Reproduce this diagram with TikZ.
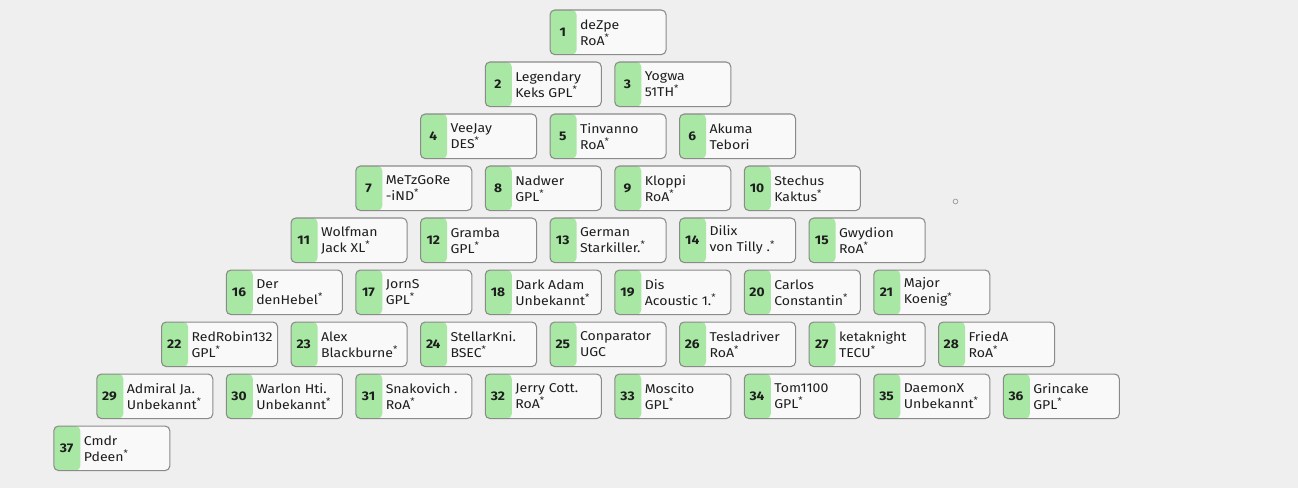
\documentclass[tikz,border=0pt]{standalone}
\usepackage{fontspec}
\setmainfont{Fira Sans}[FakeStretch=1.1]
\definecolor{bgc}{HTML}{EFEFEF}
\definecolor{boxfill}{HTML}{F9F9F9}
\definecolor{boxline}{HTML}{8A8A8A}
\definecolor{numgreen}{HTML}{A8E8A4}
\definecolor{txt}{HTML}{1E1E1E}
\tikzset{
  entrybox/.style={draw=boxline, line width=0.8pt, fill=boxfill, rounded corners=3.5pt,
    minimum width=87pt, minimum height=33.4pt, inner sep=0pt, anchor=north west,
    path picture={\fill[numgreen] (path picture bounding box.north west) rectangle ([xshift=19.9pt]path picture bounding box.south west);}},
  numtext/.style={font=\fontsize{9.4}{11}\selectfont\bfseries, text=txt, inner sep=0pt},
  nametext/.style={font=\fontsize{9.6}{12}\selectfont, text=txt, align=left, inner sep=0pt, anchor=west},
}
\newcommand{\st}{\textsuperscript{*}}
\newcommand{\entry}[5]{%
  \node[entrybox] (b#1) at (#2,#3) {};
  \node[numtext] (n#1) at ([xshift=9.95pt]b#1.west) {#1};
  \node[nametext] (t#1) at ([xshift=22.7pt]b#1.west) {#4\\#5};
}
\begin{document}
\begin{tikzpicture}[x=0.75pt,y=-0.75pt]
\fill[bgc] (0,0) rectangle (1298,488);
\useasboundingbox (0,0) rectangle (1298,488);
% row 1
\entry{1}{549.5}{9.5}{deZpe}{RoA\st}
% row 2
\entry{2}{484.75}{61.5}{Legendary}{Keks GPL\st}
\entry{3}{614.25}{61.5}{Yogwa}{51TH\st}
% row 3
\entry{4}{420}{113.5}{VeeJay}{DES\st}
\entry{5}{549.5}{113.5}{Tinvanno}{RoA\st}
\entry{6}{679}{113.5}{Akuma}{Tebori}
% row 4
\entry{7}{355.25}{165.5}{MeTzGoRe}{-iND\st}
\entry{8}{484.75}{165.5}{Nadwer}{GPL\st}
\entry{9}{614.25}{165.5}{Kloppi}{RoA\st}
\entry{10}{743.75}{165.5}{Stechus}{Kaktus\st}
% row 5
\entry{11}{290.5}{217.5}{Wolfman}{Jack XL\st}
\entry{12}{420}{217.5}{Gramba}{GPL\st}
\entry{13}{549.5}{217.5}{German}{Starkiller.\st}
\entry{14}{679}{217.5}{Dilix}{von Tilly .\st}
\entry{15}{808.5}{217.5}{Gwydion}{RoA\st}
% row 6
\entry{16}{225.75}{269.5}{Der}{denHebel\st}
\entry{17}{355.25}{269.5}{JornS}{GPL\st}
\entry{18}{484.75}{269.5}{Dark Adam}{Unbekannt\st}
\entry{19}{614.25}{269.5}{Dis}{Acoustic 1.\st}
\entry{20}{743.75}{269.5}{Carlos}{Constantin\st}
\entry{21}{873.25}{269.5}{Major}{Koenig\st}
% row 7
\entry{22}{161}{321.5}{RedRobin132}{GPL\st}
\entry{23}{290.5}{321.5}{Alex}{Blackburne\st}
\entry{24}{420}{321.5}{StellarKni.}{BSEC\st}
\entry{25}{549.5}{321.5}{Conparator}{UGC}
\entry{26}{679}{321.5}{Tesladriver}{RoA\st}
\entry{27}{808.5}{321.5}{ketaknight}{TECU\st}
\entry{28}{938}{321.5}{FriedA}{RoA\st}
% row 8
\entry{29}{96.25}{373.5}{Admiral Ja.}{Unbekannt\st}
\entry{30}{225.75}{373.5}{Warlon Hti.}{Unbekannt\st}
\entry{31}{355.25}{373.5}{Snakovich .}{RoA\st}
\entry{32}{484.75}{373.5}{Jerry Cott.}{RoA\st}
\entry{33}{614.25}{373.5}{Moscito}{GPL\st}
\entry{34}{743.75}{373.5}{Tom1100}{GPL\st}
\entry{35}{873.25}{373.5}{DaemonX}{Unbekannt\st}
\entry{36}{1002.75}{373.5}{Grincake}{GPL\st}
% row 9
\entry{37}{53.3}{425.5}{Cmdr}{Pdeen\st}
% small marker
\node[circle, draw=boxline!80, line width=0.6pt, minimum size=3.6pt, inner sep=0pt] (dot) at (955.5,201.5) {};
\end{tikzpicture}
\end{document}
